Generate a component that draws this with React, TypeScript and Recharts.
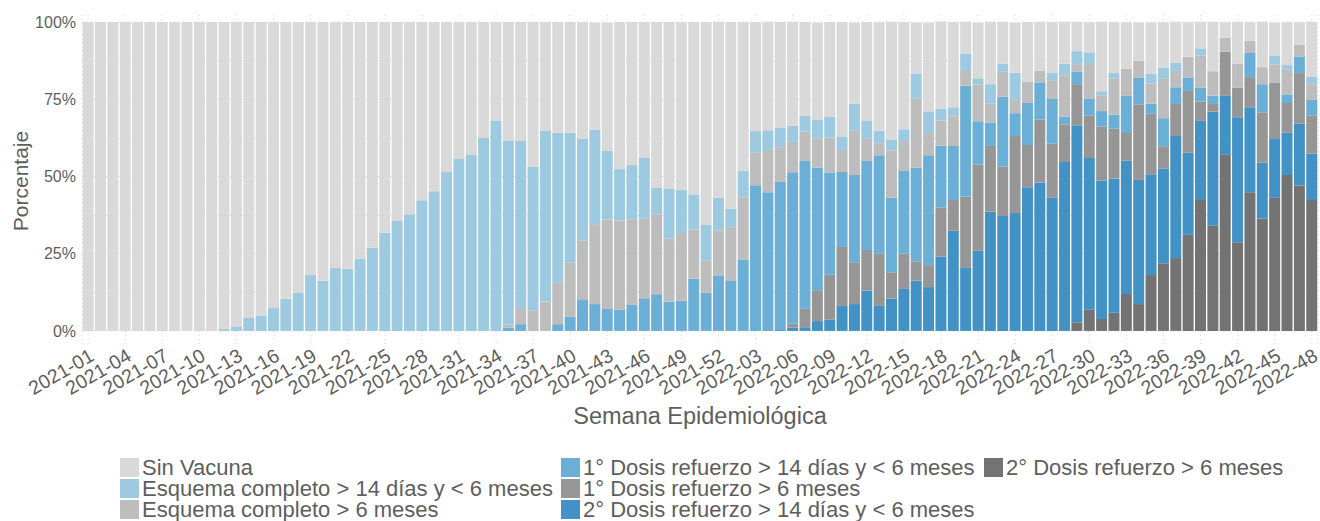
import React from 'react';
import { BarChart, Bar, XAxis, YAxis, CartesianGrid, Legend } from 'recharts';

const weeks = [
  '2021-01', '2021-02', '2021-03', '2021-04', '2021-05', '2021-06', '2021-07', '2021-08', '2021-09', '2021-10',
  '2021-11', '2021-12', '2021-13', '2021-14', '2021-15', '2021-16', '2021-17', '2021-18', '2021-19', '2021-20',
  '2021-21', '2021-22', '2021-23', '2021-24', '2021-25', '2021-26', '2021-27', '2021-28', '2021-29', '2021-30',
  '2021-31', '2021-32', '2021-33', '2021-34', '2021-35', '2021-36', '2021-37', '2021-38', '2021-39', '2021-40',
  '2021-41', '2021-42', '2021-43', '2021-44', '2021-45', '2021-46', '2021-47', '2021-48', '2021-49', '2021-50',
  '2021-51', '2021-52', '2022-01', '2022-02', '2022-03', '2022-04', '2022-05', '2022-06', '2022-07', '2022-08',
  '2022-09', '2022-10', '2022-11', '2022-12', '2022-13', '2022-14', '2022-15', '2022-16', '2022-17', '2022-18',
  '2022-19', '2022-20', '2022-21', '2022-22', '2022-23', '2022-24', '2022-25', '2022-26', '2022-27', '2022-28',
  '2022-29', '2022-30', '2022-31', '2022-32', '2022-33', '2022-34', '2022-35', '2022-36', '2022-37', '2022-38',
  '2022-39', '2022-40', '2022-41', '2022-42', '2022-43', '2022-44', '2022-45', '2022-46', '2022-47', '2022-48',
];

// porcentajes por semana (0-100)
const sinVacuna = [
  100, 100, 100, 100, 100, 100, 100, 100, 100, 100,
  100, 99.4, 98.7, 95.8, 95.0, 92.6, 89.6, 87.7, 81.9, 83.7,
  79.5, 79.9, 76.6, 73.1, 68.2, 64.4, 62.2, 57.7, 54.8, 48.5,
  44.3, 43.0, 37.5, 32.0, 38.5, 38.5, 46.8, 35.1, 35.8, 35.8,
  37.8, 34.7, 41.6, 47.6, 46.3, 44.0, 53.7, 54.0, 54.4, 55.8,
  65.7, 56.9, 60.4, 48.1, 35.3, 35.1, 34.1, 33.7, 30.4, 31.6,
  30.7, 37.0, 26.3, 32.0, 35.2, 38.1, 34.7, 16.5, 28.8, 28.2,
  27.6, 10.4, 18.1, 20.2, 13.6, 16.3, 19.4, 15.9, 16.5, 13.6,
  9.5, 9.8, 22.5, 16.5, 15.1, 12.4, 16.6, 14.8, 13.3, 11.2,
  8.6, 16.0, 5.0, 13.6, 6.1, 14.7, 10.7, 13.9, 7.4, 17.8,
];

const esquemaMenos6 = [
  0, 0, 0, 0, 0, 0, 0, 0, 0, 0,
  0, 0.6, 1.3, 4.2, 5.0, 7.4, 10.4, 12.3, 18.1, 16.3,
  20.5, 20.1, 23.4, 26.9, 31.8, 35.6, 37.8, 42.3, 45.2, 51.5,
  55.7, 57.0, 62.5, 68.0, 59.5, 54.1, 46.5, 55.4, 48.4, 42.1,
  33.0, 30.6, 22.2, 16.6, 17.5, 19.6, 8.5, 16.0, 13.9, 11.4,
  11.4, 10.7, 6.0, 8.6, 6.8, 6.4, 6.4, 5.2, 5.1, 5.9,
  6.7, 4.4, 8.8, 5.8, 4.0, 3.5, 3.8, 8.2, 7.0, 3.9,
  2.6, 5.2, 2.0, 6.3, 2.6, 8.8, 0, 0, 2.3, 3.7,
  4.2, 4.1, 1.3, 1.7, 0, 0, 3.2, 3.6, 2.6, 0,
  2.3, 0, 0, 0, 0, 0, 2.9, 1.4, 0, 2.4,
];

const esquemaMas6 = [
  0, 0, 0, 0, 0, 0, 0, 0, 0, 0,
  0, 0, 0, 0, 0, 0, 0, 0, 0, 0,
  0, 0, 0, 0, 0, 0, 0, 0, 0, 0,
  0, 0, 0, 0, 0.9, 5.2, 6.7, 9.5, 13.6, 17.5,
  19.2, 25.9, 29.0, 28.9, 27.6, 25.8, 25.9, 20.5, 21.9, 15.9,
  10.5, 14.5, 17.2, 20.3, 10.7, 13.7, 11.3, 9.8, 9.5, 9.5,
  11.3, 7.1, 14.3, 7.2, 3.9, 15.4, 9.7, 22.3, 7.2, 8.1,
  9.9, 5.1, 11.9, 6.1, 8.0, 4.3, 6.8, 3.7, 6.1, 13.4,
  2.5, 10.8, 5.1, 11.8, 8.8, 5.4, 6.5, 12.7, 5.3, 6.7,
  10.5, 7.9, 4.6, 7.8, 3.9, 5.5, 6.0, 8.1, 3.7, 5.1,
];

const refuerzo1Menos6 = [
  0, 0, 0, 0, 0, 0, 0, 0, 0, 0,
  0, 0, 0, 0, 0, 0, 0, 0, 0, 0,
  0, 0, 0, 0, 0, 0, 0, 0, 0, 0,
  0, 0, 0, 0, 1.1, 2.2, 0, 0, 2.2, 4.6,
  10.0, 8.7, 7.1, 6.9, 8.6, 10.6, 11.9, 9.5, 9.8, 16.9,
  12.4, 18.0, 16.4, 23.0, 47.2, 44.9, 47.9, 49.1, 47.7, 39.7,
  33.1, 24.3, 28.4, 28.8, 31.9, 24.1, 26.8, 30.5, 35.6, 20.0,
  17.5, 35.9, 14.0, 7.6, 22.7, 7.4, 13.6, 12.0, 14.5, 2.5,
  4.0, 5.6, 5.0, 4.5, 12.0, 8.7, 3.3, 9.1, 5.4, 4.4,
  4.4, 2.7, 0, 0, 7.8, 9.1, 0, 2.8, 5.4, 5.0,
];

const refuerzo1Mas6 = [
  0, 0, 0, 0, 0, 0, 0, 0, 0, 0,
  0, 0, 0, 0, 0, 0, 0, 0, 0, 0,
  0, 0, 0, 0, 0, 0, 0, 0, 0, 0,
  0, 0, 0, 0, 0, 0, 0, 0, 0, 0,
  0, 0, 0, 0, 0, 0, 0, 0, 0, 0,
  0, 0, 0, 0, 0, 0, 0, 1.2, 6.1, 10.0,
  14.6, 19.1, 13.4, 13.1, 16.9, 8.5, 11.4, 6.1, 7.1, 15.9,
  9.9, 23.1, 27.9, 21.3, 16.0, 24.9, 13.7, 20.4, 17.5, 12.2,
  13.3, 13.7, 17.5, 16.2, 9.0, 24.5, 19.6, 7.2, 10.4, 20.0,
  6.3, 2.5, 14.3, 9.5, 9.8, 16.3, 17.9, 9.5, 16.4, 12.4,
];

const refuerzo2Menos6 = [
  0, 0, 0, 0, 0, 0, 0, 0, 0, 0,
  0, 0, 0, 0, 0, 0, 0, 0, 0, 0,
  0, 0, 0, 0, 0, 0, 0, 0, 0, 0,
  0, 0, 0, 0, 0, 0, 0, 0, 0, 0,
  0, 0, 0, 0, 0, 0, 0, 0, 0, 0,
  0, 0, 0, 0, 0, 0, 0.3, 1.1, 1.2, 3.2,
  3.6, 8.1, 8.7, 13.1, 8.1, 10.5, 13.6, 16.3, 14.2, 24.1,
  32.5, 20.4, 26.0, 38.6, 37.2, 38.2, 46.5, 48.1, 43.1, 54.7,
  63.8, 49.1, 44.8, 43.3, 43.1, 40.2, 32.6, 30.7, 39.5, 26.6,
  25.6, 36.9, 19.1, 40.5, 27.5, 18.1, 19.3, 13.8, 20.0, 15.0,
];

const refuerzo2Mas6 = [
  0, 0, 0, 0, 0, 0, 0, 0, 0, 0,
  0, 0, 0, 0, 0, 0, 0, 0, 0, 0,
  0, 0, 0, 0, 0, 0, 0, 0, 0, 0,
  0, 0, 0, 0, 0, 0, 0, 0, 0, 0,
  0, 0, 0, 0, 0, 0, 0, 0, 0, 0,
  0, 0, 0, 0, 0, 0, 0, 0, 0, 0,
  0, 0, 0, 0, 0, 0, 0, 0, 0, 0,
  0, 0, 0, 0, 0, 0, 0, 0, 0, 0,
  2.8, 6.9, 3.9, 6.0, 12.0, 8.7, 18.1, 21.9, 23.6, 31.1,
  42.4, 34.1, 57.0, 28.7, 44.9, 36.4, 43.1, 50.5, 47.1, 42.4,
];

const yTicks = [0, 25, 50, 75, 100];
const gridLines = [0, 12.5, 25, 37.5, 50, 62.5, 75, 87.5, 100];

// orden del apilado: de abajo hacia arriba
const series = [
  { key: 'r2b', name: '2° Dosis refuerzo > 6 meses', color: '#737373', values: refuerzo2Mas6 },
  { key: 'r2a', name: '2° Dosis refuerzo > 14 días y < 6 meses', color: '#4292c6', values: refuerzo2Menos6 },
  { key: 'r1b', name: '1° Dosis refuerzo > 6 meses', color: '#969696', values: refuerzo1Mas6 },
  { key: 'r1a', name: '1° Dosis refuerzo > 14 días y < 6 meses', color: '#6baed6', values: refuerzo1Menos6 },
  { key: 'e6', name: 'Esquema completo > 6 meses', color: '#bdbdbd', values: esquemaMas6 },
  { key: 'e14', name: 'Esquema completo > 14 días y < 6 meses', color: '#9ecae1', values: esquemaMenos6 },
  { key: 'sin', name: 'Sin Vacuna', color: '#d9d9d9', values: sinVacuna },
];

const legendOrder = ['sin', 'e14', 'e6', 'r1a', 'r1b', 'r2a', 'r2b'];

const data = weeks.map((week, i) => {
  const row: Record<string, any> = { week };
  series.forEach((s) => { row[s.key] = s.values[i]; });
  return row;
});

const FONT = '"Liberation Sans", Arial, Helvetica, sans-serif';
const TEXT = '#5e5e5e';

const WeekTick = ({ x, payload }: any) => (
  <text
    transform={`translate(${x},${347}) rotate(-30)`}
    textAnchor="end"
    dy="0.75em"
    fontSize={19.5}
    fontFamily={FONT}
    fill={TEXT}
  >
    {payload.value}
  </text>
);

const colX = [120, 561, 984];

const renderLegend = () => (
  <div style={{ position: 'relative', width: 1320, height: 64, fontFamily: FONT, fontSize: 22, lineHeight: '20px', color: TEXT }}>
    {legendOrder.map((k, i) => {
      const s = series.find((d) => d.key === k)!;
      return (
        <div
          key={k}
          style={{
            position: 'absolute',
            left: colX[Math.floor(i / 3)],
            top: (i % 3) * 21,
            height: 21,
            display: 'flex',
            alignItems: 'center',
            whiteSpace: 'nowrap',
          }}
        >
          <span style={{ display: 'inline-block', width: 19, height: 19, background: s.color, marginRight: 3 }} />
          <span>{s.name}</span>
        </div>
      );
    })}
  </div>
);

export default function App() {
  return (
    <div style={{ position: 'absolute', left: 0, top: 0, background: '#fff' }}>
      <BarChart
        width={1320}
        height={521}
        data={data}
        margin={{ top: 15, right: 2, left: 0, bottom: 84 }}
        barCategoryGap={0.6}
      >
        <CartesianGrid
          strokeDasharray="1 3"
          stroke="#d6d6d6"
          horizontalValues={gridLines}
        />
        <XAxis
          dataKey="week"
          interval={2}
          tickLine={false}
          axisLine={false}
          height={90}
          tick={<WeekTick />}
          label={{
            value: 'Semana Epidemiológica',
            position: 'insideBottom',
            offset: 13,
            fontSize: 23.5,
            fontFamily: FONT,
            fill: TEXT,
          }}
        />
        <YAxis
          width={82}
          domain={[-5.2, 102.3]}
          ticks={yTicks}
          allowDataOverflow
          tickLine={false}
          axisLine={false}
          tickMargin={0}
          tickFormatter={(v) => `${v}%`}
          tick={{ fontSize: 16, fontFamily: FONT, fill: TEXT }}
          label={{
            value: 'Porcentaje',
            angle: -90,
            position: 'insideLeft',
            offset: 21,
            fontSize: 21,
            fontFamily: FONT,
            fill: TEXT,
            style: { textAnchor: 'middle' },
          }}
        />
        <Legend
          layout="horizontal"
          verticalAlign="middle"
          align="center"
          wrapperStyle={{ top: 457, left: 0, width: 1320 }}
          content={renderLegend}
        />
        {series.map((s) => (
          <Bar key={s.key} dataKey={s.key} name={s.name} stackId="a" fill={s.color} isAnimationActive={false} />
        ))}
      </BarChart>
    </div>
  );
}
